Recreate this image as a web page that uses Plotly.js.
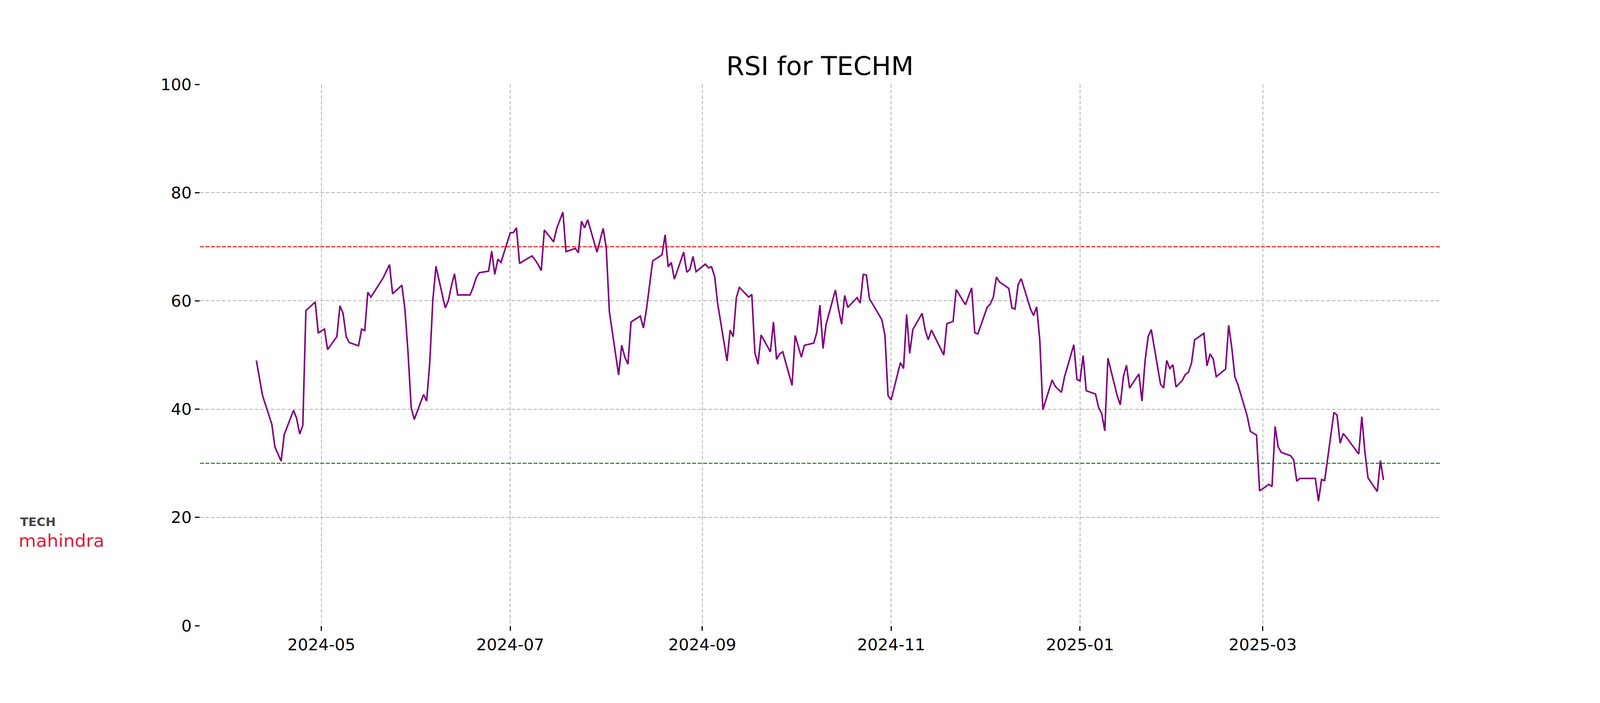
<!DOCTYPE html>
<html>
<head>
<meta charset="utf-8">
<script src="https://cdn.plot.ly/plotly-3.0.1.min.js"></script>
<style>html,body{margin:0;padding:0;background:#fff;overflow:hidden;}</style>
</head>
<body>
<div id="chart"></div>
<script>
// ---- data ----
const dates = [
"2024-04-10","2024-04-12","2024-04-15","2024-04-16","2024-04-18","2024-04-19","2024-04-22","2024-04-23","2024-04-24","2024-04-25","2024-04-26","2024-04-29","2024-04-30",
"2024-05-02","2024-05-03","2024-05-06","2024-05-07","2024-05-08","2024-05-09","2024-05-10","2024-05-13","2024-05-14","2024-05-15","2024-05-16","2024-05-17","2024-05-21","2024-05-22","2024-05-23","2024-05-24","2024-05-27","2024-05-28","2024-05-29","2024-05-30","2024-05-31",
"2024-06-03","2024-06-04","2024-06-05","2024-06-06","2024-06-07","2024-06-10","2024-06-11","2024-06-12","2024-06-13","2024-06-14","2024-06-18","2024-06-19","2024-06-20","2024-06-21","2024-06-24","2024-06-25","2024-06-26","2024-06-27","2024-06-28",
"2024-07-01","2024-07-02","2024-07-03","2024-07-04","2024-07-05","2024-07-08","2024-07-09","2024-07-10","2024-07-11","2024-07-12","2024-07-15","2024-07-16","2024-07-18","2024-07-19","2024-07-22","2024-07-23","2024-07-24","2024-07-25","2024-07-26","2024-07-29","2024-07-30","2024-07-31",
"2024-08-01","2024-08-02","2024-08-05","2024-08-06","2024-08-07","2024-08-08","2024-08-09","2024-08-12","2024-08-13","2024-08-14","2024-08-16","2024-08-19","2024-08-20","2024-08-21","2024-08-22","2024-08-23","2024-08-26","2024-08-27","2024-08-28","2024-08-29","2024-08-30",
"2024-09-02","2024-09-03","2024-09-04","2024-09-05","2024-09-06","2024-09-09","2024-09-10","2024-09-11","2024-09-12","2024-09-13","2024-09-16","2024-09-17","2024-09-18","2024-09-19","2024-09-20","2024-09-23","2024-09-24","2024-09-25","2024-09-26","2024-09-27","2024-09-30",
"2024-10-01","2024-10-03","2024-10-04","2024-10-07","2024-10-08","2024-10-09","2024-10-10","2024-10-11","2024-10-14","2024-10-15","2024-10-16","2024-10-17","2024-10-18","2024-10-21","2024-10-22","2024-10-23","2024-10-24","2024-10-25","2024-10-28","2024-10-29","2024-10-30","2024-10-31",
"2024-11-01","2024-11-04","2024-11-05","2024-11-06","2024-11-07","2024-11-08","2024-11-11","2024-11-12","2024-11-13","2024-11-14","2024-11-18","2024-11-19","2024-11-21","2024-11-22","2024-11-25","2024-11-26","2024-11-27","2024-11-28","2024-11-29",
"2024-12-02","2024-12-03","2024-12-04","2024-12-05","2024-12-06","2024-12-09","2024-12-10","2024-12-11","2024-12-12","2024-12-13","2024-12-16","2024-12-17","2024-12-18","2024-12-19","2024-12-20","2024-12-23","2024-12-24","2024-12-26","2024-12-27","2024-12-30","2024-12-31",
"2025-01-01","2025-01-02","2025-01-03","2025-01-06","2025-01-07","2025-01-08","2025-01-09","2025-01-10","2025-01-13","2025-01-14","2025-01-15","2025-01-16","2025-01-17","2025-01-20","2025-01-21","2025-01-22","2025-01-23","2025-01-24","2025-01-27","2025-01-28","2025-01-29","2025-01-30","2025-01-31",
"2025-02-01","2025-02-03","2025-02-04","2025-02-05","2025-02-06","2025-02-07","2025-02-10","2025-02-11","2025-02-12","2025-02-13","2025-02-14","2025-02-17","2025-02-18","2025-02-19","2025-02-20","2025-02-21","2025-02-24","2025-02-25","2025-02-27","2025-02-28",
"2025-03-03","2025-03-04","2025-03-05","2025-03-06","2025-03-07","2025-03-10","2025-03-11","2025-03-12","2025-03-13","2025-03-17","2025-03-18","2025-03-19","2025-03-20","2025-03-21","2025-03-24","2025-03-25","2025-03-26","2025-03-27","2025-03-28",
"2025-04-01","2025-04-02","2025-04-03","2025-04-04","2025-04-07","2025-04-08","2025-04-09"
];
const rsi = [
49.0,42.5,37.2,33.0,30.4,35.3,39.8,38.3,35.4,37.0,58.2,59.8,54.1,
54.8,51.0,53.4,59.1,57.7,53.4,52.3,51.7,54.8,54.5,61.6,60.7,64.3,65.5,66.7,61.3,62.9,58.3,50.3,40.3,38.1,
42.7,41.5,48.6,60.2,66.4,58.7,60.0,62.8,65.0,61.1,61.1,62.5,64.3,65.2,65.5,69.2,64.9,67.7,67.1,
72.6,72.6,73.5,66.9,67.3,68.3,67.6,66.7,65.6,73.1,70.9,73.4,76.4,69.1,69.7,68.9,74.7,73.5,75.0,69.0,71.2,73.4,
69.8,58.0,46.3,51.8,49.6,48.3,56.1,57.2,55.0,58.5,67.4,68.5,72.2,66.3,67.1,64.0,69.0,65.3,65.8,68.2,65.4,
66.8,66.1,66.3,64.5,59.4,48.9,54.6,53.4,60.6,62.5,60.7,61.2,50.4,48.3,53.7,50.6,56.1,49.2,50.2,50.6,44.4,
53.6,49.6,51.8,52.2,54.2,59.2,51.2,55.7,62.0,58.5,55.7,61.0,58.8,60.6,59.6,64.9,64.8,60.4,57.5,56.5,53.6,42.5,
41.7,48.6,47.5,57.5,50.3,54.7,57.7,54.6,52.8,54.6,50.0,55.8,56.2,62.1,59.3,60.8,62.4,54.1,53.9,
58.8,59.4,60.7,64.4,63.5,62.3,58.7,58.5,63.0,64.1,58.5,57.3,58.9,52.8,39.9,45.4,44.2,43.1,46.0,51.9,45.5,
45.2,49.9,43.4,42.8,40.3,39.2,36.0,49.4,42.5,40.8,46.0,48.1,43.9,46.5,41.5,48.9,53.4,54.7,44.6,43.9,49.0,47.5,48.2,
44.1,45.3,46.4,46.8,48.5,52.8,54.0,48.0,50.2,49.3,46.0,47.4,55.5,51.4,46.0,44.5,38.7,35.9,35.2,24.9,
26.1,25.7,36.8,33.0,32.0,31.4,30.6,26.7,27.2,27.2,27.2,23.0,27.0,26.8,39.4,38.9,33.7,35.5,34.8,
31.7,38.6,32.1,27.3,24.8,30.5,26.9
];
const overbought = 70;
const oversold = 30;
const yTicks = [0, 20, 40, 60, 80, 100];
const xTickVals = ["2024-05-01","2024-07-01","2024-09-01","2024-11-01","2025-01-01","2025-03-01"];
const xTickText = ["2024-05","2024-07","2024-09","2024-11","2025-01","2025-03"];
const titleText = "RSI for TECHM";
const logoTop = "TECH";
const logoBottom = "mahindra";

// ---- figure geometry (matplotlib-like subplot fractions) ----
const W = window.innerWidth || 4800;
const H = window.innerHeight || 1800;
const sx = W / 4800, sy = H / 1800;
const mL = Math.round(0.125 * W), mR = Math.round(0.10 * W);
const mT = Math.round(0.12 * H), mB = Math.round(0.11 * H);
const plotW = W - mL - mR, plotH = H - mT - mB;
document.getElementById("chart").style.width = W + "px";
document.getElementById("chart").style.height = H + "px";

// x range with 5% margins like matplotlib
const t0 = new Date(dates[0] + "T00:00:00Z").getTime();
const t1 = new Date(dates[dates.length - 1] + "T00:00:00Z").getTime();
const pad = (t1 - t0) * 0.05;
function fmt(t) { return new Date(t).toISOString().replace("T", " ").slice(0, 19); }
function pxX(px) { return (px * sx - mL) / plotW; }          // reference px -> paper x
function pxY(py) { return (H - mB - py * sy) / plotH; }      // reference px -> paper y

const FONT = "DejaVu Sans, sans-serif";

const traces = [{
  x: dates, y: rsi, type: "scatter", mode: "lines",
  line: { color: "#800080", width: 4 }, hoverinfo: "skip", showlegend: false
}];

const layout = {
  width: W, height: H,
  margin: { l: mL, r: mR, t: mT, b: mB, pad: 0 },
  paper_bgcolor: "#ffffff", plot_bgcolor: "#ffffff",
  showlegend: false,
  title: {
    text: titleText, font: { family: FONT, size: 66.7, color: "#000" },
    x: 0.5, xref: "paper", xanchor: "center",
    y: 1, yref: "paper", yanchor: "bottom", pad: { b: 24 }
  },
  xaxis: {
    type: "date", range: [fmt(t0 - pad), fmt(t1 + pad)],
    tickvals: xTickVals, ticktext: xTickText,
    ticks: "outside", ticklen: 12, tickwidth: 3, tickcolor: "#000",
    tickfont: { family: FONT, size: 41.7, color: "#000" },
    showgrid: true, gridcolor: "#b0b0b0", gridwidth: 2, griddash: "9px,5px",
    showline: false, zeroline: false
  },
  yaxis: {
    range: [0, 100], tickvals: yTicks,
    ticks: "outside", ticklen: 12, tickwidth: 3, tickcolor: "#000",
    tickfont: { family: FONT, size: 41.7, color: "#000" },
    showgrid: true, gridcolor: "#b0b0b0", gridwidth: 2, griddash: "9px,5px",
    showline: false, zeroline: false
  },
  shapes: [
    { type: "line", xref: "paper", x0: 0, x1: 1, yref: "y", y0: overbought, y1: overbought,
      line: { color: "#ff0000", width: 2.5, dash: "10px,4px" } },
    { type: "line", xref: "paper", x0: 0, x1: 1, yref: "y", y0: oversold, y1: oversold,
      line: { color: "#008000", width: 2.5, dash: "10px,4px" } }
  ],
  annotations: [
    { text: "<b>" + logoTop + "</b>", xref: "paper", yref: "paper", x: pxX(61), y: pxY(1355),
      xanchor: "left", yanchor: "bottom", showarrow: false, borderpad: 0,
      font: { family: FONT, size: 30, color: "#454545" } },
    { text: logoBottom, xref: "paper", yref: "paper", x: pxX(60), y: pxY(1358),
      xanchor: "left", yanchor: "top", showarrow: false, borderpad: 0,
      font: { family: FONT, size: 44, color: "#e0193a" } }
  ]
};

Plotly.newPlot("chart", traces, layout, { staticPlot: true, displayModeBar: false }).then(function () {
  // widen the logo words to the reference's proportions (text stays real text)
  const targets = { "TECH": 107 * sx, "mahindra": 257 * sx };
  document.querySelectorAll(".annotation-text").forEach(function (el) {
    const w = targets[el.textContent];
    if (w) {
      el.setAttribute("textLength", w.toFixed(1));
      el.setAttribute("lengthAdjust", "spacingAndGlyphs");
    }
  });
});
</script>
</body>
</html>
